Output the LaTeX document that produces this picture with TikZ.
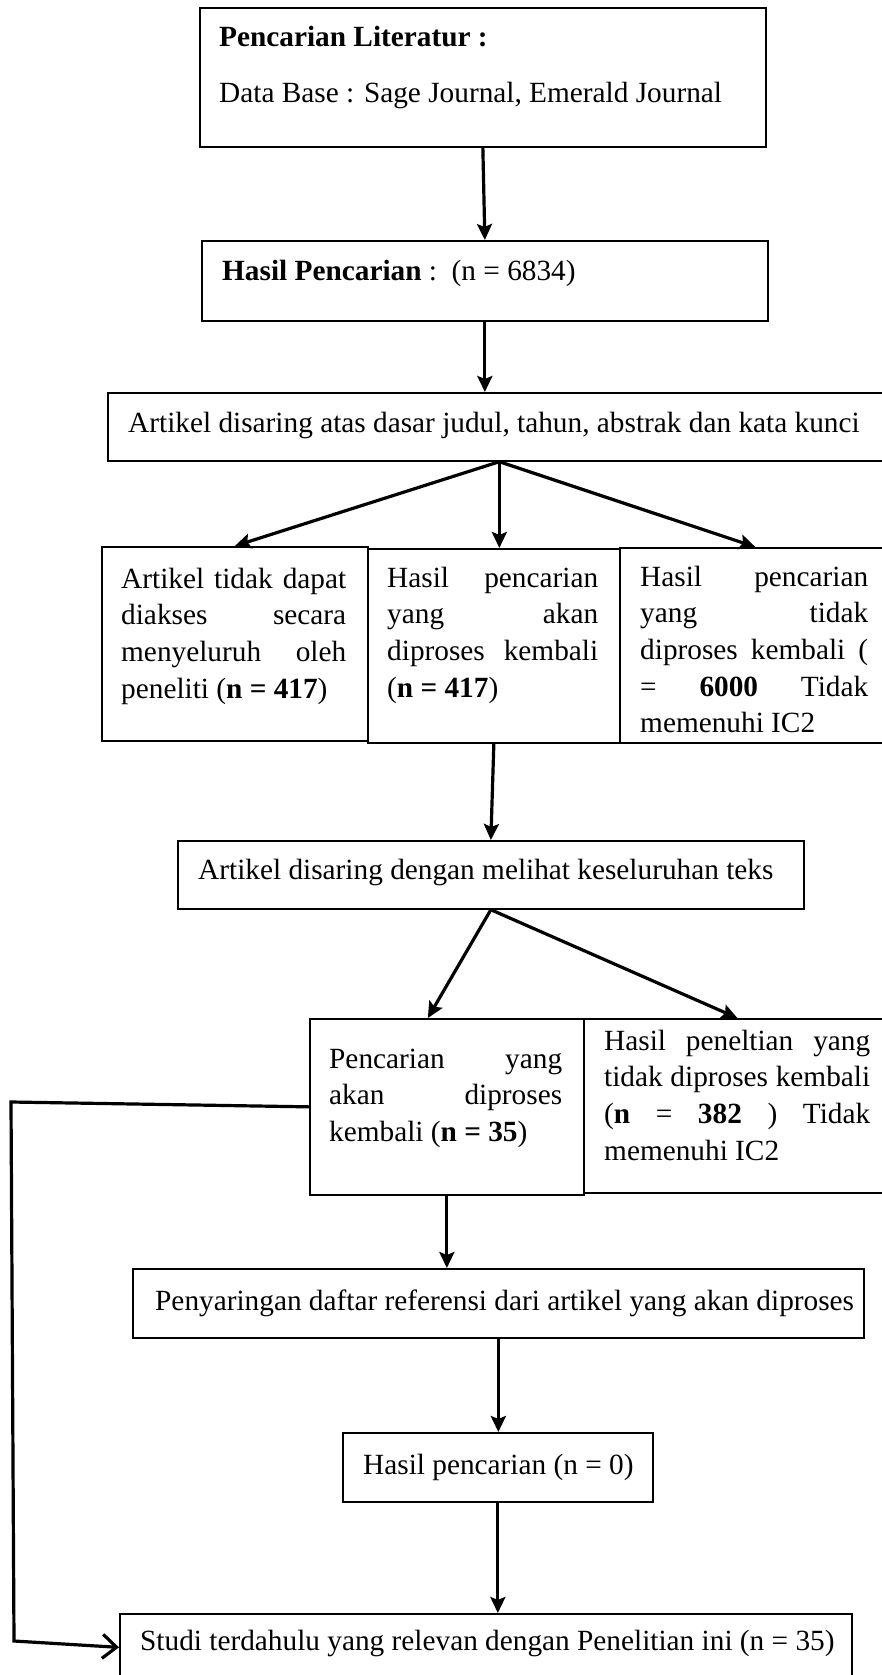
\documentclass[tikz,border=0pt]{standalone}
\usepackage{fontspec}
\setmainfont{Liberation Serif}
\usetikzlibrary{arrows.meta}
\begin{document}
\begin{tikzpicture}[x=1pt,y=-1pt,
  box/.style={draw, line width=1.7pt, inner sep=0pt, anchor=north west},
  txt/.style={inner sep=0pt, anchor=base west, font=\fontsize{29.3}{36.7}\selectfont},
  arr/.style={line width=3.2pt, -{Stealth[length=16pt,width=15pt,inset=3pt]}},
  link/.style={line width=3.2pt, -{Straight Barb[length=14pt,width=24pt]}}]
\useasboundingbox (0,0) rectangle (882,1675);
% boxes
\node[box, minimum width=566pt, minimum height=139pt] (b1) at (199,7) {};
\node[box, minimum width=566pt, minimum height=80pt] (b2) at (201,240) {};
\node[box, minimum width=783pt, minimum height=68pt] (b3) at (107,392) {};
\node[box, minimum width=266pt, minimum height=194pt] (c1) at (101,546) {};
\node[box, minimum width=252pt, minimum height=194pt] (c2) at (367,548) {};
\node[box, minimum width=271pt, minimum height=195pt] (c3) at (619,547) {};
\node[box, minimum width=626pt, minimum height=68pt] (b4) at (177,840) {};
\node[box, minimum width=274pt, minimum height=176pt] (d1) at (309,1018) {};
\node[box, minimum width=307pt, minimum height=174pt] (d2) at (583,1018) {};
\node[box, minimum width=731pt, minimum height=69pt] (b5) at (132,1268) {};
\node[box, minimum width=310pt, minimum height=69pt] (b6) at (342,1432) {};
\node[box, minimum width=732pt, minimum height=67pt] (b7) at (119,1613) {};
% texts
\node[txt] (t1a) at (219,47) {\textbf{Pencarian Literatur :}};
\node[txt] (t1b) at (219,103) {Data Base : Sage Journal, Emerald Journal};
\node[txt] (t2) at (222,280) {\textbf{Hasil Pencarian} :\ \ (n = 6834)};
\node[txt] (t3) at (128,432) {Artikel disaring atas dasar judul, tahun, abstrak dan kata kunci};
\node[txt] (tc1) at (121,588) {\parbox[t]{225pt}{Artikel\hfill tidak\hfill dapat\\diakses\hfill secara\\menyeluruh\hfill oleh\\peneliti (\textbf{n = 417})}};
\node[txt] (tc2) at (387,587) {\parbox[t]{211pt}{Hasil\hfill pencarian\\yang\hfill akan\\diproses\hfill kembali\\(\textbf{n = 417})}};
\node[txt] (tc3) at (640,586) {\parbox[t]{228pt}{Hasil\hfill pencarian\\yang\hfill tidak\\diproses\hfill kembali\hfill (\\=\hfill\textbf{6000}\hfill Tidak\\memenuhi IC2}};
\node[txt] (t4) at (198,879) {Artikel disaring dengan melihat keseluruhan teks};
\node[txt] (td1) at (329,1068) {\parbox[t]{233pt}{Pencarian\hfill yang\\akan\hfill diproses\\kembali (\textbf{n = 35})}};
\node[txt] (td2) at (604,1050) {\parbox[t]{266pt}{Hasil\hfill peneltian\hfill yang\\tidak\hfill diproses\hfill kembali\\(\textbf{n}\hfill=\hfill\textbf{382}\hfill)\hfill Tidak\\memenuhi IC2}};
\node[txt] (t5) at (155,1310) {Penyaringan daftar referensi dari artikel yang akan diproses};
\node[txt] (t6) at (363,1474) {Hasil pencarian (n = 0)};
\node[txt] (t7) at (140,1650) {Studi terdahulu yang relevan dengan Penelitian ini (n = 35)};
% connectors
\draw[arr] (b1.south) -- (b2.north);
\draw[arr] (b2.south) -- (b2.south |- b3.north);
\draw[arr] (b3.south) -- (c1.north);
\draw[arr] (b3.south) -- (b3.south |- c2.north);
\draw[arr] (b3.south) -- (c3.north);
\draw[arr] (c2.south) -- (b4.north);
\draw[arr] (b4.south) -- ([xshift=-19pt]d1.north);
\draw[arr] (b4.south) -- (d2.north);
\draw[arr] (d1.south) -- (d1.south |- b5.north);
\draw[arr] (b5.south) -- (b5.south |- b6.north);
\draw[arr] (b6.south) -- (b6.south |- b7.north);
\coordinate (k1) at (11,1102);
\coordinate (k2) at (14,1641);
\draw[link] (d1.west) -- (k1) -- (k2) -- (b7.west);
\end{tikzpicture}
\end{document}
